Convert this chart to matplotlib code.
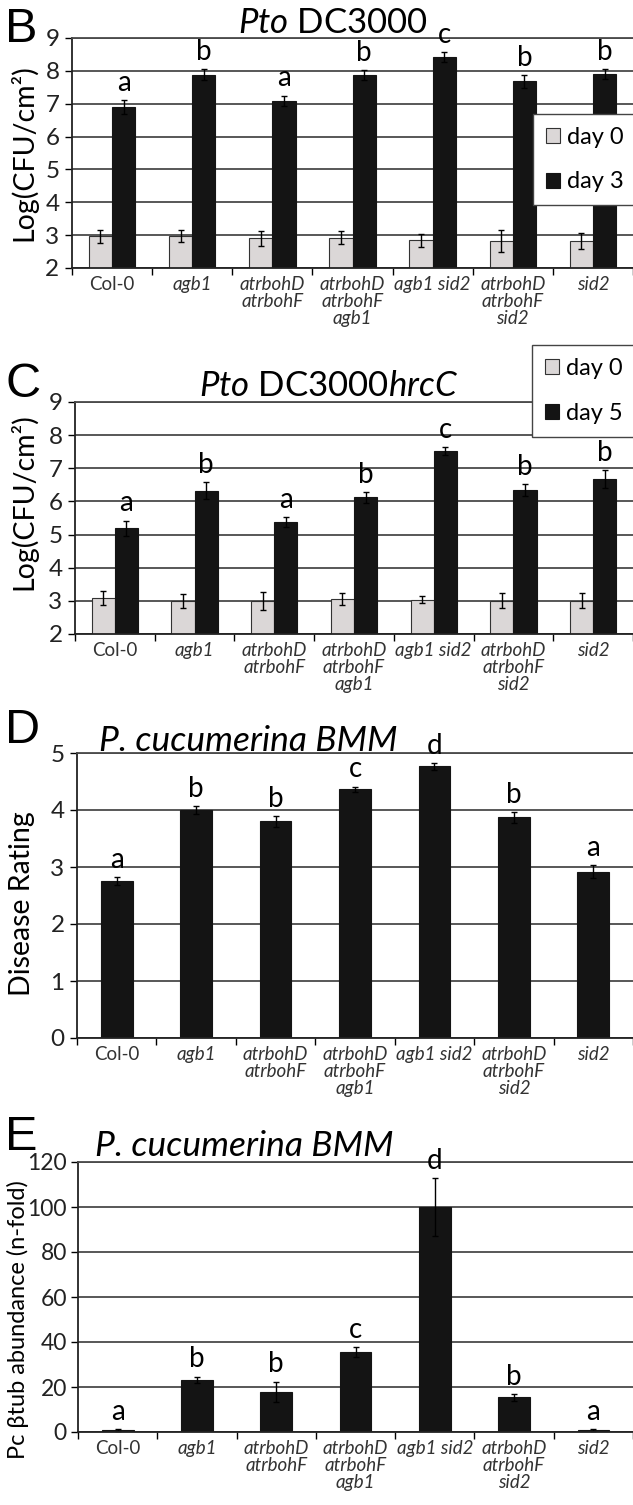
import matplotlib.pyplot as plt
import numpy as np

plt.rcParams['font.family'] = ['Lato', 'DejaVu Sans']
plt.rcParams['mathtext.fontset'] = 'custom'
plt.rcParams['mathtext.rm'] = 'Lato'
plt.rcParams['mathtext.it'] = 'Lato:italic'

genotypes = ['Col-0', 'agb1', 'atrbohD\natrbohF', 'atrbohD\natrbohF\nagb1',
             'agb1 sid2', 'atrbohD\natrbohF\nsid2', 'sid2']

# B: Pto DC3000
dc_day0 = [2.97, 2.97, 2.90, 2.92, 2.84, 2.82, 2.82]
dc_day0_err = [0.20, 0.18, 0.23, 0.20, 0.19, 0.33, 0.25]
dc_day3 = [6.90, 7.88, 7.09, 7.87, 8.41, 7.68, 7.91]
dc_day3_err = [0.22, 0.17, 0.16, 0.16, 0.15, 0.19, 0.15]
dc_letters = ['a', 'b', 'a', 'b', 'c', 'b', 'b']

# C: Pto DC3000hrcC
hrc_day0 = [3.09, 2.99, 3.00, 3.06, 3.04, 3.00, 3.00]
hrc_day0_err = [0.22, 0.22, 0.28, 0.19, 0.11, 0.23, 0.23]
hrc_day5 = [5.19, 6.32, 5.37, 6.12, 7.53, 6.34, 6.68]
hrc_day5_err = [0.23, 0.26, 0.15, 0.17, 0.12, 0.18, 0.27]
hrc_letters = ['a', 'b', 'a', 'b', 'c', 'b', 'b']

# D: disease rating
rating = [2.76, 4.00, 3.80, 4.36, 4.77, 3.87, 2.92]
rating_err = [0.07, 0.07, 0.09, 0.05, 0.06, 0.10, 0.12]
rating_letters = ['a', 'b', 'b', 'c', 'd', 'b', 'a']

# E: fungal biomass
btub = [1.0, 23.1, 17.8, 35.7, 100.1, 15.4, 1.0]
btub_err = [0.4, 1.5, 4.6, 2.2, 12.9, 1.5, 0.4]
btub_letters = ['a', 'b', 'b', 'c', 'd', 'b', 'a']

W, H = 633, 1505
fig = plt.figure(figsize=(W / 100, H / 100), dpi=100)
x = np.arange(len(genotypes)) + 0.5
grid_col = '#4a4a4a'
light = '#dbd7d7'
dark = '#141414'


def make_axes(left, top, bottom):
    ax = fig.add_axes([left / W, 1 - bottom / H, (W - left) / W, (bottom - top) / H])
    ax.set_xlim(0, 7)
    ax.spines['right'].set_visible(False)
    ax.spines['top'].set_color(grid_col)
    ax.spines['top'].set_linewidth(1.3)
    for s in ('left', 'bottom'):
        ax.spines[s].set_linewidth(1.3)
        ax.spines[s].set_color('#222222')
    ax.yaxis.grid(True, color=grid_col, lw=1.3)
    ax.set_axisbelow(True)
    ax.set_xticks(np.arange(8))
    ax.set_xticklabels([])
    ax.set_xticks(x, genotypes, minor=True)
    ax.tick_params(axis='x', which='major', length=5, width=1, direction='out')
    ax.tick_params(axis='x', which='minor', length=0, pad=6, labelsize=13.5,
                   labelcolor='#333333')
    ax.tick_params(axis='y', length=5, width=1, labelsize=17.5, pad=4,
                   labelcolor='#222222')
    for lab in ax.get_xticklabels(minor=True):
        lab.set_linespacing(1.0)
        if lab.get_text() != 'Col-0':
            lab.set_fontstyle('italic')
    return ax


def letters(ax, xs, tops, labs):
    for xi, t, l in zip(xs, tops, labs):
        ax.annotate(l, (xi, t), xytext=(0, 3), textcoords='offset points',
                    ha='center', va='bottom', fontsize=20, clip_on=False)


ebar = dict(ecolor='black', elinewidth=1, capsize=2.5, capthick=1)
leg_kw = dict(loc='upper left', fontsize=17, frameon=True, fancybox=False,
              framealpha=1, edgecolor='#444444', handlelength=0.6,
              handleheight=0.6, handletextpad=0.3, labelspacing=1.0,
              borderpad=0.55, borderaxespad=0)

# ---- panel B
axB = make_axes(72, 38, 268)
w = 0.29
axB.bar(x - w / 2, dc_day0, w, yerr=dc_day0_err, color=light,
        edgecolor='#333333', lw=0.8, error_kw=ebar, label='day 0')
axB.bar(x + w / 2, dc_day3, w, yerr=dc_day3_err, color=dark,
        edgecolor=dark, lw=0.8, error_kw=ebar, label='day 3')
axB.set_ylim(2, 9)
axB.set_yticks(range(2, 10))
axB.set_ylabel('Log(CFU/cm²)', fontsize=20.5)
axB.yaxis.set_label_coords(-0.062, 0.5)
letters(axB, x + w / 2, np.add(dc_day3, dc_day3_err), dc_letters)
legB = axB.legend(bbox_to_anchor=(0.821, 0.67), **leg_kw)
legB.get_frame().set_linewidth(1)

# ---- panel C
axC = make_axes(75, 402, 634)
axC.bar(x - w / 2, hrc_day0, w, yerr=hrc_day0_err, color=light,
        edgecolor='#333333', lw=0.8, error_kw=ebar, label='day 0')
axC.bar(x + w / 2, hrc_day5, w, yerr=hrc_day5_err, color=dark,
        edgecolor=dark, lw=0.8, error_kw=ebar, label='day 5')
axC.set_ylim(2, 9)
axC.set_yticks(range(2, 10))
axC.set_ylabel('Log(CFU/cm²)', fontsize=20.5)
axC.yaxis.set_label_coords(-0.068, 0.57)
letters(axC, x + w / 2, np.add(hrc_day5, hrc_day5_err), hrc_letters)
legC = axC.legend(bbox_to_anchor=(0.819, 1.246), **leg_kw)
legC.get_frame().set_linewidth(1)

# ---- panel D
axD = make_axes(77, 753, 1038)
wd = 0.4
axD.bar(x, rating, wd, yerr=rating_err, color=dark, edgecolor=dark, lw=0.8, error_kw=ebar)
axD.set_ylim(0, 5)
axD.set_yticks(range(0, 6))
axD.set_ylabel('Disease Rating', fontsize=20.5)
axD.yaxis.set_label_coords(-0.076, 0.47)
letters(axD, x, np.add(rating, rating_err), rating_letters)

# ---- panel E
axE = make_axes(78, 1162, 1432)
axE.bar(x, btub, wd, yerr=btub_err, color=dark, edgecolor=dark, lw=0.8, error_kw=ebar)
axE.set_ylim(0, 120)
axE.set_yticks(range(0, 121, 20))
axE.tick_params(axis='y', labelsize=16.5, pad=3)
axE.set_ylabel('Pc βtub abundance (n-fold)', fontsize=17)
axE.yaxis.set_label_coords(-0.088, 0.415)
letters(axE, x, np.add(btub, btub_err), btub_letters)

# ---- panel letters and titles
for lab, yb in [('B', 42), ('C', 397), ('D', 743), ('E', 1150)]:
    fig.text(5 / W, 1 - yb / H, lab, fontsize=35, family='Liberation Sans',
             ha='left', va='baseline')

fig.text(333 / W, 1 - 33 / H, r'$Pto$ DC3000', fontsize=25, ha='center', va='baseline')
fig.text(329 / W, 1 - 396 / H, r'$Pto$ DC3000$hrcC$', fontsize=25, ha='center', va='baseline')
fig.text(248 / W, 1 - 751 / H, 'P. cucumerina BMM', fontsize=25.5, style='italic',
         ha='center', va='baseline')
fig.text(244 / W, 1 - 1156 / H, 'P. cucumerina BMM', fontsize=25.5, style='italic',
         ha='center', va='baseline')

fig.savefig('out.png', dpi=100, facecolor='white')
